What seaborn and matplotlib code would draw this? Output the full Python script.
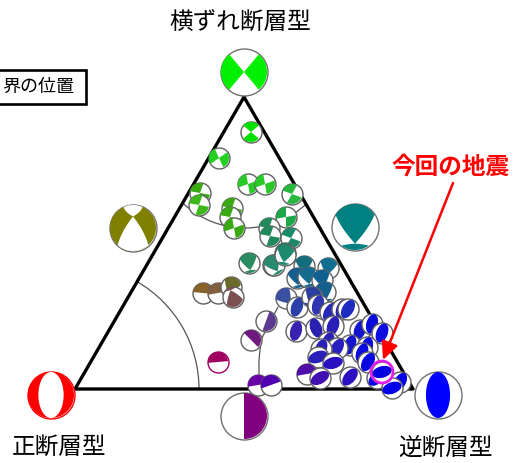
import numpy as np
import seaborn as sns
import matplotlib.pyplot as plt
from matplotlib.patches import Arc, Ellipse, Polygon, Rectangle, Wedge

sns.set_theme(style="white")
plt.rcParams["font.family"] = ["Noto Sans CJK JP", "DejaVu Sans"]

# Triangle corners
corner_x = [244, 413, 75, 244]
corner_y = [97, 389, 389, 97]

# Reference mechanisms at the corners and mid sides
ref_x = [244, 133, 355, 51, 438, 244]
ref_y = [72, 228, 227, 395, 395, 416]
ref_color = ["#00f000", "#808000", "#008080", "#ff0000", "#0000ff", "#800080"]
ref_edge = ["#707070", "#707070", "#707070", "#ff0000", "#707070", "#707070"]
ref_mech = ["pair", "ring_drop", "drop", "ring", "lens", "half"]
ref_rot = [0, 90, -90, 90, 90, 0]

# Events, in drawing order
event_x = [251, 219, 200, 199, 248, 265, 292, 232, 230, 234, 286, 269, 270,
           291, 285, 249, 273, 274, 285, 304, 328, 297, 308, 322, 325,
           203, 218, 231, 233, 218, 251, 266, 286, 297, 312, 318, 330, 342, 348,
           296, 316, 333, 360, 372, 382, 350, 367, 362, 368, 328, 337, 321, 318,
           333, 307, 320, 350, 258, 271, 377, 400, 392, 382]
event_y = [132, 158, 193, 205, 184, 184, 194, 208, 217, 228, 217, 228, 236,
           238, 253, 263, 265, 265, 255, 266, 268, 278, 277, 280, 292,
           293, 293, 287, 297, 362, 340, 321, 298, 307, 297, 305, 312, 309, 309,
           331, 328, 326, 330, 324, 333, 345, 347, 353, 362, 342, 348, 349, 357,
           363, 374, 378, 377, 385, 385, 378, 382, 388, 372]
event_color = ["#00e000", "#22d022", "#3aaa14", "#3fb81e", "#28c828", "#28c828", "#28b840",
               "#3aaa14", "#3aaa14", "#3aaa14", "#1fa84a", "#218a5a", "#218a5a",
               "#1b8a68", "#1b8060", "#2a8a60", "#1b8060", "#2a8a70", "#1b8a70", "#156e80",
               "#106e90", "#155f90", "#156a90", "#0f6090", "#125f90",
               "#86622a", "#806040", "#6a6a2a", "#7a5050", "#a00060", "#701a80", "#5a3a90",
               "#3a4fa0", "#2a3fa8", "#2a3fa0", "#2f35b0", "#2828b8", "#2222c0", "#1c2cc0",
               "#3a20b0", "#2a20b0", "#2a20b8", "#1414d0", "#0c0cd8", "#0c0ce0",
               "#1414d0", "#0c0ce0", "#0c0ce0", "#0808e0", "#2a20b8", "#2a20c0", "#2a20b8",
               "#2a20b8", "#2a10c0", "#500ca8", "#4010b0", "#2a10c0", "#6a00a8", "#5000b0",
               "#0808e0", "#0000e8", "#0000e8", "#0404e0"]
event_mech = ["pair", "pair", "pair", "pair", "pair", "pair", "pair",
              "pair", "pair", "pair", "pair", "pair", "pair",
              "pair", "drop", "drop", "drop", "drop", "drop", "drop",
              "drop", "drop", "drop", "drop", "drop",
              "half", "half", "drop", "drop", "half", "half", "half",
              "drop", "lens", "drop", "lens", "lens", "lens", "lens",
              "lens", "lens", "lens", "lens", "lens", "lens",
              "lens", "lens", "lens", "lens", "lens", "lens", "lens",
              "lens", "lens", "half", "lens", "lens", "half", "half",
              "lens", "lens", "lens", "lens"]
event_rot = [90, 15, 60, 60, 30, 30, 70,
             60, 60, 30, 40, 60, 60,
             70, -100, -100, -80, -120, -80, -90,
             -80, -100, -100, -100, -100,
             -85, -100, -70, 70, -95, -45, 20,
             -130, -70, -70, -75, -60, -70, -60,
             -75, -110, -70, -70, -75, -70,
             -70, -75, -70, -60, -70, -60, -70,
             -20, -15, -100, -30, -50, -100, -110,
             -40, -60, -20, -15]

FIG_W, FIG_H = 518, 463
EVENT_R = 10.5
REF_R = 23.5


def lobe(x, y, r, rot, half, apex):
    # one lobe of a mechanism: rim arc closed with bowed sides to an apex on the axis
    a = np.radians(rot)
    t = np.radians(np.linspace(rot - half, rot + half, 30))
    rim = np.column_stack([x + r * np.cos(t), y + r * np.sin(t)])
    tip = np.array([x + apex * r * np.cos(a), y + apex * r * np.sin(a)])
    perp = np.array([-np.sin(a), np.cos(a)])
    c1 = (rim[-1] + tip) / 2 + 0.16 * r * perp
    c2 = (rim[0] + tip) / 2 - 0.16 * r * perp
    s = np.linspace(0, 1, 12)[:, None]
    right = (1 - s) ** 2 * rim[-1] + 2 * s * (1 - s) * c1 + s ** 2 * tip
    left = (1 - s) ** 2 * tip + 2 * s * (1 - s) * c2 + s ** 2 * rim[0]
    return np.vstack([rim, right, left])


def beachball(ax, x, y, r, color, mech, rot, z, edge="#707070", lens=1.05):
    size = (2 * r * 72 / 100) ** 2
    sns.scatterplot(x=[x], y=[y], s=size, color="white", edgecolor=edge, linewidth=1.0,
                    legend=False, zorder=z, ax=ax)
    rr = r - 0.5
    shapes = []
    if mech == "pair":
        shapes = [Wedge((x, y), rr, rot - 50, rot + 50, fc=color),
                  Wedge((x, y), rr, rot + 130, rot + 230, fc=color)]
    elif mech == "half":
        shapes = [Wedge((x, y), rr, rot - 90, rot + 90, fc=color)]
    elif mech == "lens":
        shapes = [Ellipse((x, y), 2 * rr, rr * lens, angle=rot, fc=color)]
    elif mech == "ring":
        shapes = [Ellipse((x, y), 2 * rr, 2 * rr, fc=color),
                  Ellipse((x, y), 2 * rr, rr * 1.1, angle=rot, fc="white")]
    elif mech == "drop":
        shapes = [Polygon(lobe(x, y, rr, rot, 58, -0.72), fc=color),
                  Polygon(lobe(x, y, rr, rot + 180, 36, 0.72), fc=color)]
    elif mech == "ring_drop":
        shapes = [Ellipse((x, y), 2 * rr, 2 * rr, fc=color),
                  Polygon(lobe(x, y, rr, rot, 42, -0.5), fc="white"),
                  Polygon(lobe(x, y, rr, rot + 180, 24, 0.5), fc="white")]
    for s in shapes:
        s.set_edgecolor("none")
        s.set_zorder(z + 0.1)
        ax.add_patch(s)


fig, ax = plt.subplots(figsize=(FIG_W / 100, FIG_H / 100), dpi=100)
fig.subplots_adjust(left=0, right=1, bottom=0, top=1)

# Regime boundaries
ax.add_patch(Arc((75, 389), 248, 248, theta1=-60, theta2=0, ec="#555555", lw=0.9, zorder=1))
ax.add_patch(Arc((245, 138), 180, 180, theta1=47, theta2=133, ec="#555555", lw=0.9, zorder=1))
ax.plot([259, 259, 261, 265, 278], [380, 360, 340, 332, 307], color="#555555", lw=0.9, zorder=1)

sns.lineplot(x=corner_x, y=corner_y, sort=False, estimator=None, color="black",
             linewidth=2.4, ax=ax, zorder=2)

for i in range(len(ref_x)):
    beachball(ax, ref_x[i], ref_y[i], REF_R, ref_color[i], ref_mech[i], ref_rot[i], 3, edge=ref_edge[i])

for i in range(len(event_x)):
    beachball(ax, event_x[i], event_y[i], EVENT_R, event_color[i], event_mech[i], event_rot[i], 4 + i * 0.2,
              edge="#606060" if event_x[i] != 218 or event_y[i] != 362 else "#a00060", lens=1.15)

# This event
sns.scatterplot(x=[382], y=[372], s=(2 * 11 * 72 / 100) ** 2, color="none", edgecolor="#e020e8",
                linewidth=2.0, legend=False, zorder=40, ax=ax)
ax.annotate("", xy=(383, 360), xytext=(453, 183), zorder=41,
            arrowprops=dict(arrowstyle="-|>,head_length=0.9,head_width=0.42", color="#ff0000", lw=1.8,
                            shrinkA=0, shrinkB=0))

ax.text(451, 167, "今回の地震", color="#ff0000", fontsize=17, fontweight="bold", ha="center", va="center")
ax.text(240, 23, "横ずれ断層型", color="black", fontsize=17, ha="center", va="center")
ax.text(59, 447, "正断層型", color="black", fontsize=17, ha="center", va="center")
ax.text(445, 449, "逆断層型", color="black", fontsize=17, ha="center", va="center")

ax.add_patch(Rectangle((-6, 70), 92, 34, fc="white", ec="black", lw=1.9, zorder=5))
ax.text(74, 87, "界の位置", color="black", fontsize=13, ha="right", va="center", zorder=6)

ax.set_xlim(0, FIG_W)
ax.set_ylim(FIG_H, 0)
ax.set_axis_off()

fig.savefig("out.png", dpi=100)
